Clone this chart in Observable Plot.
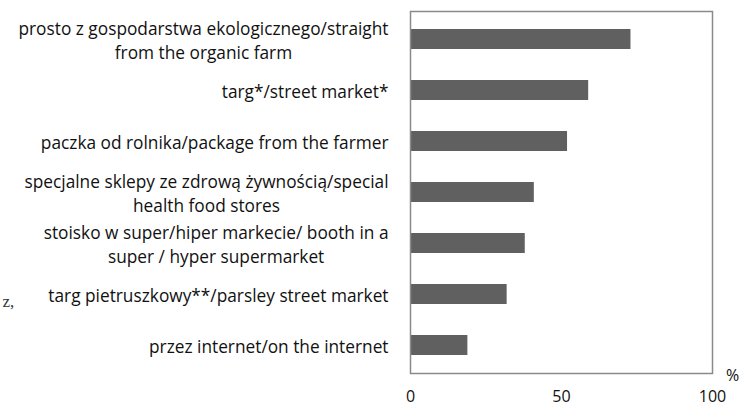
<!DOCTYPE html>
<html>
<head>
<meta charset="utf-8">
<script src="https://cdn.jsdelivr.net/npm/d3@7"></script>
<script src="https://cdn.jsdelivr.net/npm/@observablehq/plot@0.6"></script>
<style>
  html, body { margin: 0; padding: 0; background: #fff; }
  #chart { width: 740px; height: 406px; }
</style>
</head>
<body>
<div id="chart"></div>
<script>
const categories = [
  "prosto z gospodarstwa ekologicznego/straight\nfrom the organic farm",
  "targ*/street market*",
  "paczka od rolnika/package from the farmer",
  "specjalne sklepy ze zdrową żywnością/special\nhealth food stores",
  "stoisko w super/hiper markecie/ booth in a\nsuper / hyper supermarket",
  "targ pietruszkowy**/parsley street market",
  "przez internet/on the internet"
];
const values = [73, 59, 52, 41, 38, 32, 19];
const xTicks = [0, 50, 100];
const unitLabel = "%";
const strayText = "z,";

const FONT = "'Open Sans', sans-serif";
const LABEL_SIZE = 17.3;
const GAP = 22;

const data = categories.map((c, i) => ({cat: c, value: values[i]}));

const ctx = document.createElement("canvas").getContext("2d");
ctx.font = `${LABEL_SIZE}px 'Open Sans'`;
const blockWidth = c => Math.max(...c.split("\n").map(s => ctx.measureText(s).width));

const marks = [
  Plot.barX(data, {x: "value", y: "cat", fill: "#606060"}),
  Plot.frame({stroke: "#8a8a8a", strokeWidth: 1.5}),
  Plot.axisX({ticks: xTicks, tickSize: 0, tickPadding: 17, fontSize: 16, label: null, fill: "#111"}),
  Plot.text([unitLabel], {frameAnchor: "bottom-right", dx: 20, dy: 2, fontSize: 16, fill: "#111", textAnchor: "middle", lineAnchor: "middle"}),
  Plot.text([strayText], {y: [categories[5]], frameAnchor: "left", dx: -408, dy: 7, fontSize: 17, fontFamily: "'Liberation Serif', serif", fill: "#333", textAnchor: "start"})
];
data.forEach(d => {
  marks.push(Plot.text([d], {
    y: "cat", text: "cat", frameAnchor: "left",
    dx: -(GAP + blockWidth(d.cat) / 2), textAnchor: "middle",
    lineAnchor: "middle", lineHeight: 1.38, fontSize: LABEL_SIZE, fill: "#111"
  }));
});

const chart = Plot.plot({
  width: 740, height: 406,
  marginLeft: 410, marginRight: 28, marginTop: 11, marginBottom: 33,
  style: {fontFamily: FONT, background: "#fff", overflow: "visible"},
  x: {domain: [0, 100], ticks: xTicks, label: null},
  y: {domain: categories, paddingInner: 0.6, paddingOuter: 0.3, axis: null},
  marks
});
document.getElementById("chart").appendChild(chart);
</script>
</body>
</html>
